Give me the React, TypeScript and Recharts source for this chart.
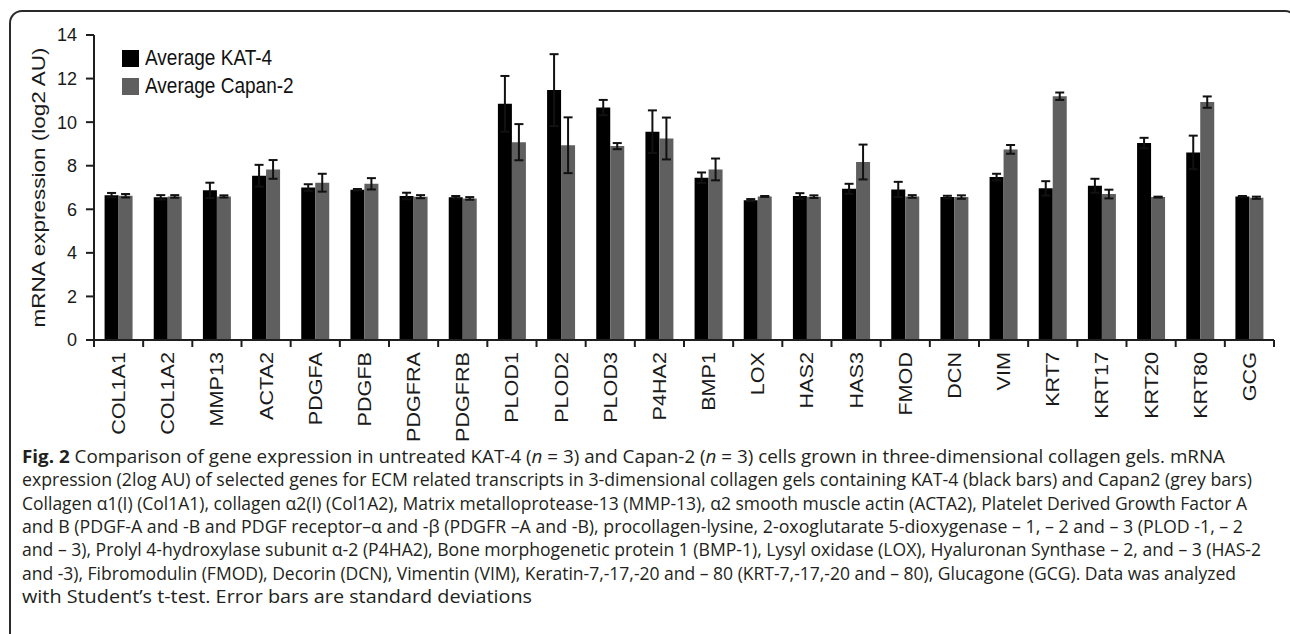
import React from 'react';
import { BarChart, Bar, XAxis, YAxis, ErrorBar, Legend } from 'recharts';

const categories = ['COL1A1', 'COL1A2', 'MMP13', 'ACTA2', 'PDGFA', 'PDGFB', 'PDGFRA', 'PDGFRB', 'PLOD1', 'PLOD2', 'PLOD3', 'P4HA2', 'BMP1', 'LOX', 'HAS2', 'HAS3', 'FMOD', 'DCN', 'VIM', 'KRT7', 'KRT17', 'KRT20', 'KRT80', 'GCG'];
const kat4 = [6.65, 6.55, 6.87, 7.54, 7.0, 6.9, 6.61, 6.55, 10.84, 11.47, 10.67, 9.56, 7.45, 6.42, 6.61, 6.94, 6.91, 6.56, 7.48, 6.96, 7.08, 9.04, 8.61, 6.59];
const kat4Sd = [0.1, 0.1, 0.35, 0.5, 0.15, 0.03, 0.15, 0.06, 1.28, 1.65, 0.35, 0.98, 0.24, 0.05, 0.13, 0.23, 0.35, 0.06, 0.15, 0.33, 0.32, 0.24, 0.77, 0.02];
const capan2 = [6.62, 6.59, 6.59, 7.83, 7.22, 7.17, 6.58, 6.5, 9.08, 8.94, 8.9, 9.25, 7.83, 6.59, 6.58, 8.17, 6.59, 6.56, 8.75, 11.19, 6.7, 6.56, 10.92, 6.53];
const capan2Sd = [0.08, 0.06, 0.05, 0.43, 0.41, 0.26, 0.07, 0.06, 0.83, 1.28, 0.14, 0.96, 0.5, 0.02, 0.06, 0.8, 0.06, 0.08, 0.2, 0.17, 0.2, 0.02, 0.26, 0.05];
const yTicks = [0, 2, 4, 6, 8, 10, 12, 14];
const seriesNames = ['Average KAT-4', 'Average Capan-2'];
const seriesColors = ['#000000', '#5f5f5f'];
const yAxisTitle = 'mRNA expression (log2 AU)';

type Seg = { t: string; b?: boolean; i?: boolean };
const captionLines: Seg[][] = [
  [{ t: 'Fig. 2', b: true }, { t: ' Comparison of gene expression in untreated KAT-4 (' }, { t: 'n', i: true }, { t: ' = 3) and Capan-2 (' }, { t: 'n', i: true }, { t: ' = 3) cells grown in three-dimensional collagen gels. mRNA' }],
  [{ t: 'expression (2log AU) of selected genes for ECM related transcripts in 3-dimensional collagen gels containing KAT-4 (black bars) and Capan2 (grey bars)' }],
  [{ t: 'Collagen α1(I) (Col1A1), collagen α2(I) (Col1A2), Matrix metalloprotease-13 (MMP-13), α2 smooth muscle actin (ACTA2), Platelet Derived Growth Factor A' }],
  [{ t: 'and B (PDGF-A and -B and PDGF receptor–α and -β (PDGFR –A and -B), procollagen-lysine, 2-oxoglutarate 5-dioxygenase – 1, – 2 and – 3 (PLOD -1, – 2' }],
  [{ t: 'and – 3), Prolyl 4-hydroxylase subunit α-2 (P4HA2), Bone morphogenetic protein 1 (BMP-1), Lysyl oxidase (LOX), Hyaluronan Synthase – 2, and – 3 (HAS-2' }],
  [{ t: 'and -3), Fibromodulin (FMOD), Decorin (DCN), Vimentin (VIM), Keratin-7,-17,-20 and – 80 (KRT-7,-17,-20 and – 80), Glucagone (GCG). Data was analyzed' }],
  [{ t: 'with Student’s t-test. Error bars are standard deviations' }],
];
const captionWidths = [1203, 1230, 1225, 1221, 1239, 1214, 510];

const data = categories.map((name, i) => ({
  name,
  kat4: kat4[i],
  kat4Sd: kat4Sd[i],
  capan2: capan2[i],
  capan2Sd: capan2Sd[i],
}));

const FONT = "'Liberation Sans', Arial, sans-serif";
const PLOT_LEFT = 94;
const PLOT_RIGHT = 1274;
const BAND = (PLOT_RIGHT - PLOT_LEFT) / categories.length;
const AXIS = '#1e1e1e';

const CatTick = (props: any) => {
  const { x, y, payload, index } = props;
  const half = BAND / 2;
  return (
    <g>
      {index === 0 && <line x1={x - half} x2={x - half} y1={y} y2={y + 7} stroke={AXIS} strokeWidth={2} />}
      <line x1={x + half} x2={x + half} y1={y} y2={y + 7} stroke={AXIS} strokeWidth={2} />
      <text
        transform={`translate(${x},${y + 12}) rotate(-90) scale(1.2,1)`}
        textAnchor="end"
        dy="0.36em"
        fontSize={18}
        fill="#1a1a1a"
        fontFamily={FONT}
      >
        {payload.value}
      </text>
    </g>
  );
};

const YTitle = (props: any) => {
  const vb = props.viewBox || { x: 34, y: 35, width: 60, height: 305 };
  const cx = vb.x + 5;
  const cy = vb.y + vb.height / 2;
  return (
    <text
      transform={`translate(${cx},${cy}) rotate(-90) scale(1.25,1)`}
      textAnchor="middle"
      dy="0.36em"
      fontSize={18}
      fill="#1a1a1a"
      fontFamily={FONT}
    >
      {yAxisTitle}
    </text>
  );
};

const LegendBox = () => (
  <div style={{ fontFamily: FONT, fontSize: 19, color: '#111' }}>
    {seriesNames.map((n, i) => (
      <div key={n} style={{ display: 'flex', alignItems: 'center', height: 28, whiteSpace: 'nowrap' }}>
        <span style={{ display: 'inline-block', width: 17, height: 17, background: seriesColors[i], marginRight: 6 }} />
        <span style={{ display: 'inline-block', transform: 'scaleY(1.12)' }}>{n}</span>
      </div>
    ))}
  </div>
);

export default function App() {
  return (
    <div style={{ position: 'absolute', left: 0, top: 0, width: 1290, height: 634, background: '#fff', overflow: 'hidden' }}>
      <div
        style={{
          position: 'absolute',
          left: 9,
          top: 10,
          width: 1289,
          height: 660,
          boxSizing: 'border-box',
          borderTop: '2px solid #2a2a2a',
          borderLeft: '2px solid #2a2a2a',
          borderRight: '2px solid #2a2a2a',
          borderTopLeftRadius: 13,
          borderTopRightRadius: 13,
        }}
      />
      <div style={{ position: 'absolute', left: 0, top: 0 }}>
        <BarChart
          width={1290}
          height={450}
          data={data}
          margin={{ top: 35, right: 16, left: 34, bottom: 0 }}
          barCategoryGap="21.5%"
          barGap={0}
        >
          <XAxis
            dataKey="name"
            interval={0}
            height={110}
            tickSize={0}
            tickMargin={0}
            tickLine={false}
            axisLine={{ stroke: AXIS, strokeWidth: 2 }}
            tick={<CatTick />}
          />
          <YAxis
            domain={[0, 14]}
            ticks={yTicks}
            interval={0}
            width={60}
            tickSize={8}
            tickMargin={9}
            axisLine={{ stroke: AXIS, strokeWidth: 2 }}
            tickLine={{ stroke: AXIS, strokeWidth: 2 }}
            tick={{ fontSize: 18, fill: '#1a1a1a', fontFamily: FONT }}
            label={{ content: <YTitle /> }}
          />
          <Legend
            layout="horizontal"
            verticalAlign="middle"
            align="center"
            wrapperStyle={{ position: 'absolute', left: 122, top: 44, width: 'auto', height: 'auto' }}
            content={() => <LegendBox />}
          />
          <Bar dataKey="kat4" name={seriesNames[0]} fill={seriesColors[0]} isAnimationActive={false}>
            <ErrorBar dataKey="kat4Sd" width={4.5} stroke="#111" strokeWidth={2} direction="y" />
          </Bar>
          <Bar dataKey="capan2" name={seriesNames[1]} fill={seriesColors[1]} isAnimationActive={false}>
            <ErrorBar dataKey="capan2Sd" width={4.5} stroke="#111" strokeWidth={2} direction="y" />
          </Bar>
        </BarChart>
      </div>
      <svg width={1290} height={634} style={{ position: 'absolute', left: 0, top: 0, pointerEvents: 'none' }}>
        {captionLines.map((segs, li) => (
          <text
            key={li}
            x={22}
            y={463 + li * 23.3}
            textLength={captionWidths[li]}
            lengthAdjust="spacingAndGlyphs"
            fontFamily="'Open Sans', sans-serif"
            fontSize={18}
            fill="#231f20"
            style={{ whiteSpace: 'pre' }}
          >
            {segs.map((s, si) => (
              <tspan key={si} fontWeight={s.b ? 700 : 400} fontStyle={s.i ? 'italic' : 'normal'}>
                {s.t}
              </tspan>
            ))}
          </text>
        ))}
      </svg>
    </div>
  );
}
